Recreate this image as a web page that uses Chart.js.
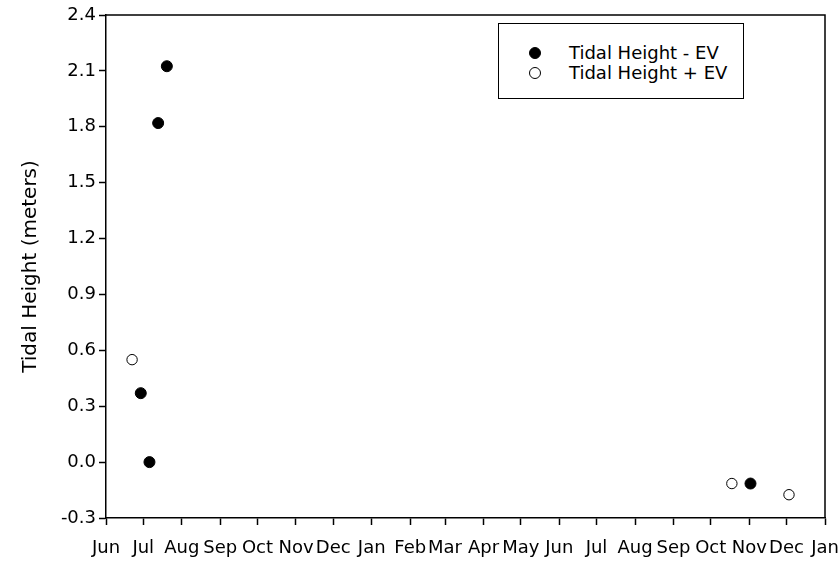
<!DOCTYPE html>
<html>
<head>
<meta charset="utf-8">
<script src="https://cdn.jsdelivr.net/npm/chart.js@4.4.1/dist/chart.umd.min.js"></script>
<style>
  body { margin: 0; background: #fff; }
  #wrap { position: relative; width: 839px; height: 561px; }
  #legend {
    position: absolute; left: 498px; top: 23px; width: 246px; height: 76px;
    box-sizing: border-box; border: 1.5px solid #000; background: #fff;
    font-family: "DejaVu Sans", sans-serif; font-size: 18px; color: #000;
  }
  .row { position: absolute; left: 0; height: 20px; width: 100%; }
  .dot {
    position: absolute; left: 30px; top: 4px; width: 12px; height: 12px;
    box-sizing: border-box; border-radius: 50%; border: 1px solid #000;
  }
  .txt { position: absolute; left: 70px; top: 0; line-height: 20px; white-space: nowrap; }
</style>
</head>
<body>
<div id="wrap">
  <canvas id="tideChart" width="839" height="561"></canvas>
  <div id="legend">
    <div class="row" style="top:19px"><span class="dot" style="background:#000"></span><span class="txt">Tidal Height - EV</span></div>
    <div class="row" style="top:39px"><span class="dot" style="background:#fff"></span><span class="txt">Tidal Height + EV</span></div>
  </div>
</div>
<script>
// Tidal height readings, Jun 2001 - Jan 2003

const monthLabels = ["Jun", "Jul", "Aug", "Sep", "Oct", "Nov", "Dec", "Jan", "Feb", "Mar",
  "Apr", "May", "Jun", "Jul", "Aug", "Sep", "Oct", "Nov", "Dec", "Jan"];

// Tidal Height - EV (filled)
const minusDates = ["2001-06-29", "2001-07-06", "2001-07-13", "2001-07-20", "2002-11-02"];
const minusHeights = [0.37, 0.0, 1.82, 2.125, -0.115];

// Tidal Height + EV (open)
const plusDates = ["2001-06-22", "2002-10-18", "2002-12-03"];
const plusHeights = [0.55, -0.115, -0.175];

const yTicks = { min: -0.3, max: 2.4, step: 0.3 };

// days since 1 Jun 2001, so x can be a plain linear scale
const origin = Date.UTC(2001, 5, 1);
const toDays = (s) => {
  const [y, m, d] = s.split("-").map(Number);
  return (Date.UTC(y, m - 1, d) - origin) / 86400000;
};
const monthStarts = monthLabels.map((_, i) => (Date.UTC(2001, 5 + i, 1) - origin) / 86400000);

const minusPoints = minusDates.map((d, i) => ({ x: toDays(d), y: minusHeights[i] }));
const plusPoints = plusDates.map((d, i) => ({ x: toDays(d), y: plusHeights[i] }));

// top and right edges of the plot frame
const frame = {
  id: "frame",
  afterDraw(chart) {
    const { ctx, chartArea: a } = chart;
    ctx.save();
    ctx.strokeStyle = "#000";
    ctx.lineWidth = 1.5;
    ctx.beginPath();
    ctx.moveTo(a.left, a.top);
    ctx.lineTo(a.right, a.top);
    ctx.lineTo(a.right, a.bottom);
    ctx.stroke();
    ctx.restore();
  },
};

const tideChart = document.getElementById("tideChart").getContext("2d");

new Chart(tideChart, {
  type: "scatter",
  data: {
    datasets: [
      {
        label: "Tidal Height - EV",
        data: minusPoints,
        pointRadius: 5.5,
        pointBackgroundColor: "#000",
        pointBorderColor: "#000",
        pointBorderWidth: 1,
      },
      {
        label: "Tidal Height + EV",
        data: plusPoints,
        pointRadius: 5.2,
        pointBackgroundColor: "#fff",
        pointBorderColor: "#000",
        pointBorderWidth: 1,
      },
    ],
  },
  options: {
    responsive: false,
    animation: false,
    layout: { padding: { top: 15, right: 14, left: 0, bottom: 0 } },
    plugins: {
      legend: { display: false },
      tooltip: { enabled: false },
    },
    scales: {
      x: {
        type: "linear",
        min: monthStarts[0],
        max: monthStarts[monthStarts.length - 1],
        afterBuildTicks: (scale) => {
          scale.ticks = monthStarts.map((v) => ({ value: v }));
        },
        afterFit: (scale) => {
          scale.height = 43;
          scale.paddingLeft = 0;
          scale.paddingRight = 0;
        },
        grid: { drawOnChartArea: false, drawTicks: true, tickLength: 7, tickColor: "#000", tickWidth: 1.5 },
        border: { color: "#000", width: 1.5 },
        ticks: {
          color: "#000",
          padding: 13,
          maxRotation: 0,
          autoSkip: false,
          font: { family: "DejaVu Sans", size: 18 },
          callback: (value, index) => monthLabels[index],
        },
      },
      y: {
        min: yTicks.min,
        max: yTicks.max,
        afterFit: (scale) => {
          scale.width = 106;
        },
        grid: { drawOnChartArea: false, drawTicks: true, tickLength: 7, tickColor: "#000", tickWidth: 1.5 },
        border: { color: "#000", width: 1.5 },
        ticks: {
          stepSize: yTicks.step,
          color: "#000",
          padding: 3,
          font: { family: "DejaVu Sans", size: 18 },
          callback: (value) => value.toFixed(1),
        },
        title: {
          display: true,
          text: "Tidal Height (meters)",
          color: "#000",
          padding: { top: 19, bottom: 0 },
          font: { family: "DejaVu Sans", size: 20 },
        },
      },
    },
  },
  plugins: [frame],
});
</script>
</body>
</html>
